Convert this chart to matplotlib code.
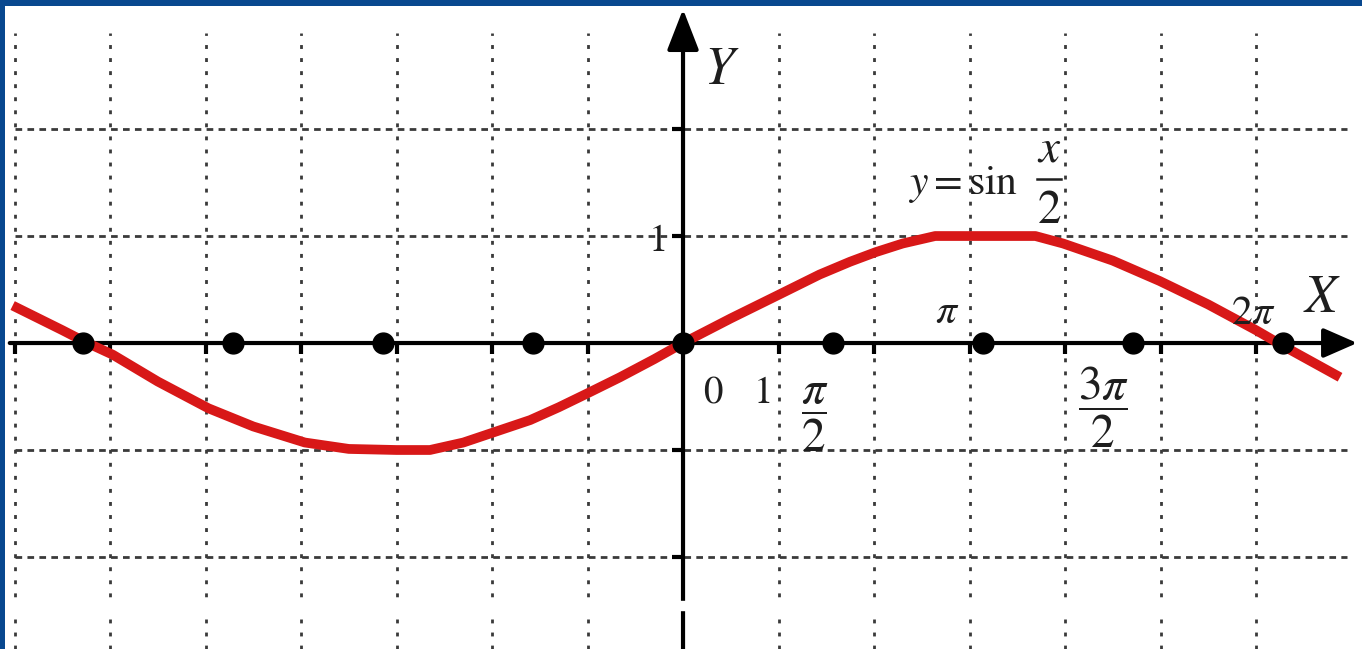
import numpy as np
import matplotlib
matplotlib.use("Agg")
import matplotlib.pyplot as plt
from matplotlib.lines import TICKDOWN, TICKLEFT

plt.rcParams['mathtext.fontset'] = 'stix'
plt.rcParams['font.family'] = ['STIXGeneral', 'DejaVu Serif']

# curve y = sin(x/2)
curveX = [-7.02, -6.50, -6.26, -5.97, -5.50, -4.97, -4.50, -3.96, -3.50, -3.00,
          -2.65, -2.30, -2.00, -1.60, -1.30, -1.00, -0.66, -0.30, 0.00, 0.50,
          1.00, 1.43, 1.75, 2.02, 2.30, 2.64, 3.69, 3.98, 4.50, 4.99,
          5.50, 6.00, 6.27, 6.88]
curveY = [0.35, 0.12, 0.01, -0.11, -0.36, -0.61, -0.78, -0.93, -0.99, -1.00,
          -1.00, -0.93, -0.84, -0.72, -0.60, -0.47, -0.32, -0.15, 0.00, 0.23,
          0.45, 0.64, 0.76, 0.85, 0.93, 1.00, 1.00, 0.93, 0.77, 0.58,
          0.36, 0.12, -0.02, -0.32]

# marked points on the x axis (multiples of pi/2)
dotX = [-6.28, -4.71, -3.14, -1.57, 0.00, 1.57, 3.14, 4.71, 6.28]
dotY = [0, 0, 0, 0, 0, 0, 0, 0, 0]

gridX = [-7, -6, -5, -4, -3, -2, -1, 1, 2, 3, 4, 5, 6]
gridY = [-2, -1, 1, 2]

xTickLabels = [(0.32, -0.47, r'$0$', 28), (0.82, -0.47, r'$1$', 28),
               (1.38, -0.70, r'$\dfrac{\pi}{2}$', 34), (2.77, 0.28, r'$\pi$', 30),
               (4.40, -0.60, r'$\dfrac{3\pi}{2}$', 34), (5.97, 0.27, r'$2\pi$', 30)]

fig = plt.figure(figsize=(13.62, 6.49), dpi=100)
fig.patch.set_facecolor('#08488f')
ax = fig.add_axes([5 / 1362, 0, 1357 / 1362, 643 / 649])
ax.set_facecolor('white')
ax.set_xlim(-7.10, 7.11)
ax.set_ylim(-2.86, 3.15)
for s in ax.spines.values():
    s.set_visible(False)
ax.set_xticks([])
ax.set_yticks([])

gridColor = '#3a3a3a'
for gx in gridX:
    ax.plot([gx, gx], [-2.86, 2.90], color=gridColor, lw=2.0,
            dashes=(1.4, 3.3), zorder=1)
for gy in gridY:
    ax.plot([-7, 6.95], [gy, gy], color=gridColor, lw=2.0,
            dashes=(2.4, 1.9), zorder=1)

# axes with arrows
ax.annotate('', xy=(7.06, 0), xytext=(-7.05, 0),
            arrowprops=dict(arrowstyle='-|>,head_length=0.8,head_width=0.35',
                            lw=3, color='black', mutation_scale=26,
                            shrinkA=0, shrinkB=0), zorder=3)
ax.annotate('', xy=(0, 3.12), xytext=(0, -2.86),
            arrowprops=dict(arrowstyle='-|>,head_length=0.9,head_width=0.35',
                            lw=3, color='black', mutation_scale=28,
                            shrinkA=0, shrinkB=0), zorder=3)

ax.plot(gridX, [0] * len(gridX), ls='none', marker=TICKDOWN, ms=8,
        mew=3, color='black', zorder=3)
ax.plot([0] * len(gridY), gridY, ls='none', marker=TICKLEFT, ms=8,
        mew=3, color='black', zorder=3)

ax.plot(curveX, curveY, color='#d81818', lw=7, solid_joinstyle='round',
        solid_capstyle='butt', zorder=4)
ax.plot(dotX, dotY, ls='none', marker='o', ms=15, color='black', zorder=5)

# white gap near the bottom
ax.axhspan(-2.50, -2.41, color='white', zorder=6)

txtColor = '#1e1e1e'
ax.text(0.40, 2.54, r'$Y$', fontsize=38, color=txtColor, ha='center', va='center')
ax.text(6.69, 0.41, r'$X$', fontsize=38, color=txtColor, ha='center', va='center')
ax.text(-0.28, 0.95, r'$1$', fontsize=28, color=txtColor, ha='center', va='center')
for tx, ty, lab, fs in xTickLabels:
    ax.text(tx, ty, lab, fontsize=fs, color=txtColor, ha='center', va='center',
            zorder=7)

# formula label: y = sin x/2, with a tall fraction as in the picture
ax.text(2.36, 1.48, r'$y=\sin$', fontsize=30, color=txtColor,
        ha='left', va='center')
ax.text(3.83, 1.80, r'$x$', fontsize=34, color=txtColor, ha='center', va='center')
ax.plot([3.71, 3.96], [1.53, 1.53], color=txtColor, lw=1.8)
ax.text(3.83, 1.23, r'$2$', fontsize=34, color=txtColor, ha='center', va='center')

fig.savefig('out.png', dpi=100, facecolor=fig.get_facecolor())
